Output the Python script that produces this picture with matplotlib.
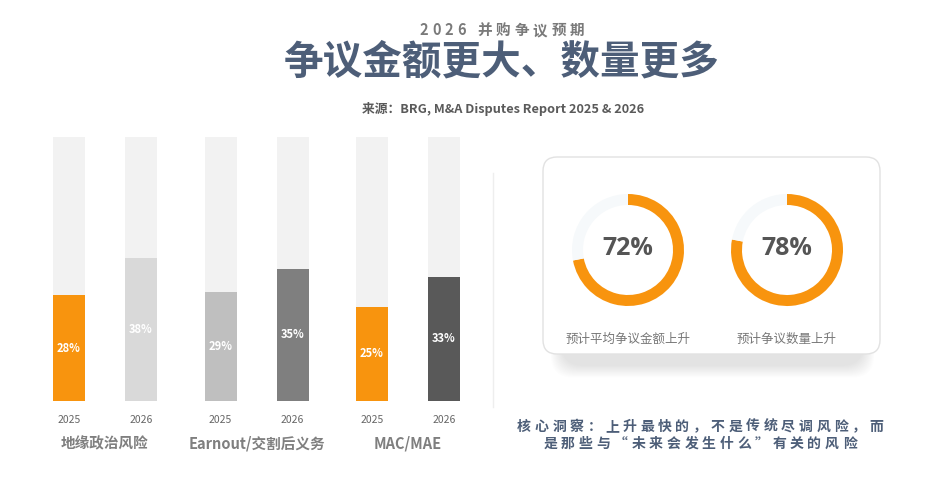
import matplotlib
matplotlib.use("Agg")
import matplotlib.pyplot as plt
from matplotlib.patches import FancyBboxPatch

plt.rcParams['font.family'] = ['Noto Sans CJK SC', 'DejaVu Sans']

# ---- data ----
groups = ["地缘政治风险", "Earnout/交割后义务", "MAC/MAE"]
years = ["2025", "2026"]
share_2025 = [28, 29, 25]
share_2026 = [38, 35, 33]
bar_colors_2025 = ["#f8940e", "#bfbfbf", "#f8940e"]
bar_colors_2026 = ["#d9d9d9", "#7f7f7f", "#595959"]
scale_max = 70

donut_values = [72, 78]
donut_labels = ["预计平均争议金额上升", "预计争议数量上升"]

subtitle = "2026 并购争议预期"
title = "争议金额更大、数量更多"
source = "来源：BRG, M&A Disputes Report 2025 & 2026"
insight = ["核心洞察：上升最快的，不是传统尽调风险，而",
           "是那些与“未来会发生什么”有关的风险"]

W, H = 940, 497
ORANGE = "#f8940e"
SLATE = "#4d5e78"

fig = plt.figure(figsize=(W / 100, H / 100), dpi=100)
fig.patch.set_facecolor("white")

# full-figure axes in pixel coordinates, for text and decoration
bg = fig.add_axes([0, 0, 1, 1], zorder=0)
bg.set_xlim(0, W)
bg.set_ylim(H, 0)
bg.axis("off")

renderer = fig.canvas.get_renderer()


def spaced_text(ax, cx, y, s, track, **kw):
    widths = []
    for ch in s:
        if ch == " ":
            widths.append(kw.get("fontsize", 10) * 100 / 72 * 0.3)
            continue
        t = ax.text(0, 0, ch, **kw)
        widths.append(t.get_window_extent(renderer=renderer).width)
        t.remove()
    total = sum(widths) + track * (len(s) - 1)
    x = cx - total / 2
    for ch, w in zip(s, widths):
        if ch != " ":
            ax.text(x, y, ch, ha="left", va="center", **kw)
        x += w + track


def pitched_text(ax, cx, y, s, pitch, **kw):
    n = len(s)
    for i, ch in enumerate(s):
        ax.text(cx + (i - (n - 1) / 2) * pitch, y, ch, ha="center", va="center", **kw)


# header
spaced_text(bg, 502, 30, subtitle, 3.8, fontsize=10.5, fontweight="bold", color="#7a7a7a")
bg.text(502, 62, title, ha="center", va="center", fontsize=28.5, fontweight="bold", color=SLATE)
bg.text(503, 109, source, ha="center", va="center", fontsize=9.2, fontweight="bold",
        color="#5a5a5a")

# separator
bg.plot([493, 493], [173, 407], color="#eeeeee", lw=1)

# card with soft shadow
for i in range(14):
    grow = 14 - i
    bg.add_patch(FancyBboxPatch((562 - grow * 0.8, 180 - grow * 0.4), 301 + grow * 1.6, 185 + grow * 1.3,
                                boxstyle="round,pad=0,rounding_size=22", fc="#000000", ec="none",
                                alpha=0.007, zorder=1))
bg.add_patch(FancyBboxPatch((543, 157), 337, 197, boxstyle="round,pad=0,rounding_size=14",
                            fc="white", ec="#e2e2e2", lw=1, zorder=2))

# insight text
for k, line in enumerate(insight):
    pitched_text(bg, 700, 427 + k * 17, line, 17.6, fontsize=10, fontweight="bold", color=SLATE)

# ---- bars ----
gx0, gdx = 105, 151.5
left_px, right_px = 20, 490
bar_top, bar_bot = 137, 401
ax = fig.add_axes([left_px / W, (H - bar_bot) / H, (right_px - left_px) / W, (bar_bot - bar_top) / H],
                  zorder=2)
ax.set_xlim((left_px - gx0) / gdx, (right_px - gx0) / gdx)
ax.set_ylim(0, scale_max)
ax.axis("off")
ax.patch.set_alpha(0)

off = 36 / gdx
bw = 32 / gdx
for g in range(len(groups)):
    for j, (vals, cols) in enumerate([(share_2025, bar_colors_2025), (share_2026, bar_colors_2026)]):
        x = g + (j - 0.5) * 2 * off
        ax.bar(x, scale_max, width=bw, color="#f2f2f2", zorder=1)
        ax.bar(x, vals[g], width=bw, color=cols[g], zorder=2)
        ax.text(x, vals[g] / 2, f"{vals[g]}%", ha="center", va="center", color="white",
                fontsize=8, fontweight="bold", zorder=3)
        ax.text(x, -5, years[j], ha="center", va="center", color="#666666", fontsize=7.5,
                clip_on=False)
    ax.text(g, -11.2, groups[g], ha="center", va="center", color="#7f7f7f", fontsize=10.5,
            fontweight="bold", clip_on=False)

# ---- donuts ----
centers = [(628, 250), (787, 250)]
r_px, ring_px, box = 56, 11, 130
for (cx, cy), v, lab in zip(centers, donut_values, donut_labels):
    dax = fig.add_axes([(cx - box / 2) / W, (H - cy - box / 2) / H, box / W, box / H], zorder=3)
    dax.pie([v, 100 - v], colors=[ORANGE, "#f6f9fb"], startangle=90, counterclock=False,
            radius=1, wedgeprops=dict(width=ring_px / r_px, linewidth=0))
    lim = (box / 2) / r_px
    dax.set_xlim(-lim, lim)
    dax.set_ylim(-lim, lim)
    dax.set_aspect("equal")
    dax.axis("off")
    dax.text(0, 0.02, f"{v}%", ha="center", va="center", fontsize=18, fontweight="bold",
             color="#555555", family=["Open Sans", "DejaVu Sans"])
    bg.text(cx, 339, lab, ha="center", va="center", fontsize=9, color="#777777", zorder=4)

fig.savefig("out.png", dpi=100, facecolor="white")
